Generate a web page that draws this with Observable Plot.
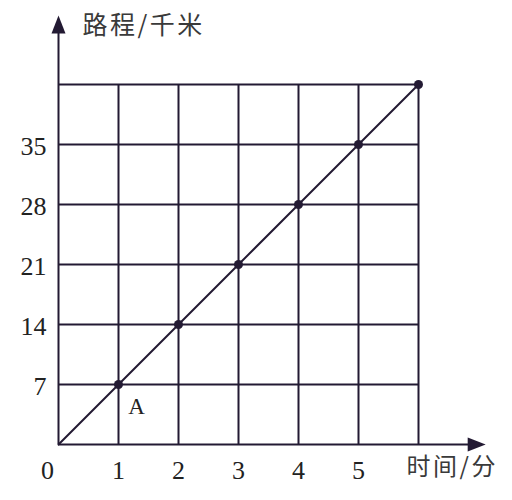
<!DOCTYPE html>
<html>
<head>
<meta charset="utf-8">
<script src="https://cdn.jsdelivr.net/npm/d3@7"></script>
<script src="https://cdn.jsdelivr.net/npm/@observablehq/plot@0.6"></script>
<style>
  html, body { margin: 0; padding: 0; background: #ffffff; }
</style>
</head>
<body>
<div id="chart"></div>
<script>
const times = [0, 1, 2, 3, 4, 5, 6];
const distances = [0, 7, 14, 21, 28, 35, 42];
const xTickLabels = [1, 2, 3, 4, 5];
const yTickLabels = [7, 14, 21, 28, 35];
const gridX = [1, 2, 3, 4, 5, 6];
const gridY = [7, 14, 21, 28, 35, 42];
const yTitle = "路程/千米";
const xTitle = "时间/分";
const pointLabel = "A";

const ink = "#231a33";
const serif = "'Liberation Serif', 'DejaVu Serif', serif";
const cjk = "'Noto Sans CJK SC', sans-serif";

const pts = times.map((t, i) => ({t, d: distances[i]}));

const arrowHead = {
  draw(ctx) {
    ctx.moveTo(0, 0);
    ctx.lineTo(7, 18);
    ctx.lineTo(-7, 18);
    ctx.closePath();
  }
};

const chart = Plot.plot({
  width: 512,
  height: 500,
  margin: 0,
  style: {background: "#ffffff"},
  x: {domain: [0, 6], range: [58, 418], axis: null},
  y: {domain: [0, 42], range: [444, 84], axis: null},
  marks: [
    Plot.ruleX(gridX, {x: d => d, y1: 0, y2: 42, stroke: ink, strokeWidth: 2}),
    Plot.ruleY(gridY, {y: d => d, x1: 0, x2: 6, stroke: ink, strokeWidth: 2}),
    Plot.ruleX([0], {x: d => d, y1: 0, y2: 49, stroke: ink, strokeWidth: 2}),
    Plot.ruleY([0], {y: d => d, x1: 0, x2: 7.0, stroke: ink, strokeWidth: 2}),
    Plot.dot([0], {x: 0, y: 50.05, symbol: arrowHead, fill: ink, stroke: "none"}),
    Plot.dot([0], {x: 7.12, y: 0, symbol: arrowHead, fill: ink, stroke: "none", rotate: 90}),
    Plot.line(pts, {x: "t", y: "d", stroke: ink, strokeWidth: 2}),
    Plot.dot(pts.slice(1), {x: "t", y: "d", r: 4.5, fill: ink, stroke: "none"}),
    Plot.text(yTickLabels, {x: 0, y: d => d, text: d => String(d), textAnchor: "end", dx: -12, dy: 2, fontSize: 26, fontFamily: serif, fill: "#222"}),
    Plot.text(xTickLabels, {x: d => d, y: 0, text: d => String(d), dy: 26, fontSize: 26, fontFamily: serif, fill: "#222"}),
    Plot.text([0], {x: 0, y: 0, text: d => String(d), dx: -11, dy: 26, fontSize: 26, fontFamily: serif, fill: "#222"}),
    Plot.text([pointLabel], {x: 1, y: 7, text: d => d, dx: 18, dy: 22, fontSize: 23, fontFamily: serif, fill: "#222"}),
    Plot.text([yTitle], {x: 0, y: 42, text: d => d, textAnchor: "start", dx: 24, dy: -59, fontSize: 25, fontFamily: cjk, fill: "#3a3a3a"}),
    Plot.text([xTitle], {x: 6, y: 0, text: d => d, textAnchor: "start", dx: -12, dy: 23, fontSize: 24, fontFamily: cjk, fill: "#3a3a3a"})
  ]
});
d3.select(chart).selectAll("g[font-family*='CJK'] text").style("letter-spacing", "2.5px");
document.getElementById("chart").appendChild(chart);
</script>
</body>
</html>
